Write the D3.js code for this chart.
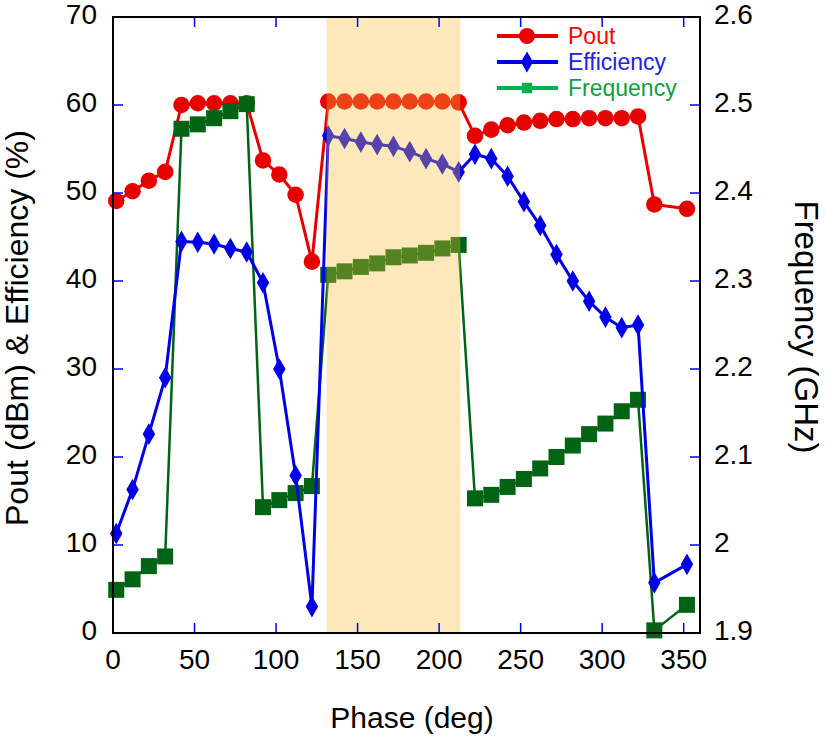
<!DOCTYPE html>
<html><head><meta charset="utf-8">
<script src="https://cdn.jsdelivr.net/npm/d3@7"></script>
<style>body{margin:0;background:#fff}svg{display:block}text{font-family:Arial,"Liberation Sans",sans-serif}</style>
</head><body><svg id="c" width="827" height="742"></svg>
<script>
const phase = [2,12,22,32,42,52,62,72,82,92,102,112,122,132,142,152,162,172,182,192,202,212,222,232,242,252,262,272,282,292,302,312,322,332,352];
const pout = [49.1,50.2,51.4,52.4,60.0,60.2,60.2,60.2,60.2,53.7,52.1,49.8,42.2,60.4,60.4,60.4,60.4,60.4,60.4,60.4,60.4,60.3,56.5,57.2,57.7,58.0,58.2,58.4,58.4,58.5,58.5,58.5,58.7,48.7,48.2];
const efficiency = [11.3,16.3,22.6,29.0,44.5,44.4,44.2,43.7,43.3,39.8,30.0,17.9,3.0,56.5,56.2,55.8,55.5,55.3,54.7,53.9,53.3,52.4,54.4,53.9,51.9,49.0,46.3,43.0,40.0,37.7,35.9,34.7,35.0,5.7,7.8];
const frequency = [1.949,1.961,1.976,1.987,2.473,2.478,2.485,2.493,2.501,2.043,2.051,2.059,2.067,2.307,2.311,2.316,2.320,2.327,2.329,2.332,2.337,2.341,2.053,2.057,2.066,2.075,2.087,2.100,2.113,2.126,2.138,2.152,2.165,1.903,1.932];
const xTicks = [0,50,100,150,200,250,300,350];
const yLeftTicks = [0,10,20,30,40,50,60,70];
const yRightTicks = [1.9,2.0,2.1,2.2,2.3,2.4,2.5,2.6];
const yRightLabels = ["1.9","2","2.1","2.2","2.3","2.4","2.5","2.6"];
const shadeRange = [131,213];
const seriesNames = ["Pout","Efficiency","Frequency"];

const L=113,R=700,T=17,B=633;
const svg=d3.select("#c");
const x=d3.scaleLinear().domain([0,360]).range([L,R]);
const yL=d3.scaleLinear().domain([0,70]).range([B,T]);
const yR=d3.scaleLinear().domain([1.9,2.6]).range([B,T]);

const red="#e60000", blue="#0000e6", green="#006414";
function drawSeries(vals, scale, color, shape, size, sw){
  const pts=phase.map((p,i)=>[x(p),scale(vals[i])]);
  svg.append("path").attr("d",d3.line()(pts)).attr("fill","none").attr("stroke",color).attr("stroke-width",sw).attr("stroke-linejoin","round");
  svg.append("g").selectAll("path").data(pts).join("path")
    .attr("transform",d=>`translate(${d[0]},${d[1]})`)
    .attr("d",d3.symbol().type(shape).size(size)).attr("fill",color);
}
drawSeries(pout,yL,red,d3.symbolCircle,215,3);
drawSeries(frequency,yR,green,d3.symbolSquare,256,2.5);
drawSeries(efficiency,yL,blue,d3.symbolDiamond,135,3);

// shaded band
svg.append("rect").attr("x",x(shadeRange[0])).attr("width",x(shadeRange[1])-x(shadeRange[0]))
  .attr("y",T).attr("height",B-T).attr("fill","rgb(245,190,60)").attr("fill-opacity",0.35);

// ticks
const tk="#0000ff";
const g=svg.append("g").attr("stroke",tk).attr("stroke-width",1.5);
xTicks.filter(v=>v>0).forEach(v=>{
  g.append("line").attr("x1",x(v)).attr("x2",x(v)).attr("y1",B).attr("y2",B-10);
  g.append("line").attr("x1",x(v)).attr("x2",x(v)).attr("y1",T).attr("y2",T+10);
});
yLeftTicks.filter(v=>v>0&&v<70).forEach(v=>{
  g.append("line").attr("x1",L).attr("x2",L+10).attr("y1",yL(v)).attr("y2",yL(v));
});
yRightTicks.filter(v=>v>1.9&&v<2.6).forEach(v=>{
  g.append("line").attr("x1",R).attr("x2",R-10).attr("y1",yR(v)).attr("y2",yR(v));
});

// frame
svg.append("rect").attr("x",L).attr("y",T).attr("width",R-L).attr("height",B-T).attr("fill","none").attr("stroke","#000").attr("stroke-width",2);

// tick labels
const fs=28;
svg.append("g").selectAll("text").data(xTicks).join("text").attr("x",d=>x(d)).attr("y",B+36)
  .attr("text-anchor","middle").attr("font-size",fs).text(d=>d);
svg.append("g").selectAll("text").data(yLeftTicks).join("text").attr("x",97).attr("y",d=>yL(d)+7)
  .attr("text-anchor","end").attr("font-size",fs).text(d=>d);
svg.append("g").selectAll("text").data(yRightTicks).join("text").attr("x",714).attr("y",d=>yR(d)+7)
  .attr("text-anchor","start").attr("font-size",fs).text((d,i)=>yRightLabels[i]);

// axis titles
svg.append("text").attr("x",412).attr("y",728).attr("text-anchor","middle").attr("font-size",30).text("Phase (deg)");
svg.append("text").attr("transform","translate(28,328) rotate(-90)").attr("text-anchor","middle").attr("font-size",32).text("Pout (dBm) & Efficiency (%)");
svg.append("text").attr("transform","translate(795,327) rotate(90)").attr("text-anchor","middle").attr("font-size",33).text("Frequency (GHz)");

// legend
const leg=[{c:red,tc:"#ff0000",s:d3.symbolCircle,sz:200,y:36},{c:blue,tc:"#2020e6",s:d3.symbolDiamond,sz:130,y:62},{c:"#00b050",tc:"#10a040",s:d3.symbolSquare,sz:110,y:88}];
leg.forEach((l,i)=>{
  svg.append("line").attr("x1",497).attr("x2",558).attr("y1",l.y).attr("y2",l.y).attr("stroke",l.c).attr("stroke-width",4);
  svg.append("path").attr("transform",`translate(527,${l.y})`).attr("d",d3.symbol().type(l.s).size(l.sz)).attr("fill",l.c);
  svg.append("text").attr("x",568).attr("y",l.y+8).attr("font-size",23).attr("fill",l.tc).text(seriesNames[i]);
});
</script></body></html>
